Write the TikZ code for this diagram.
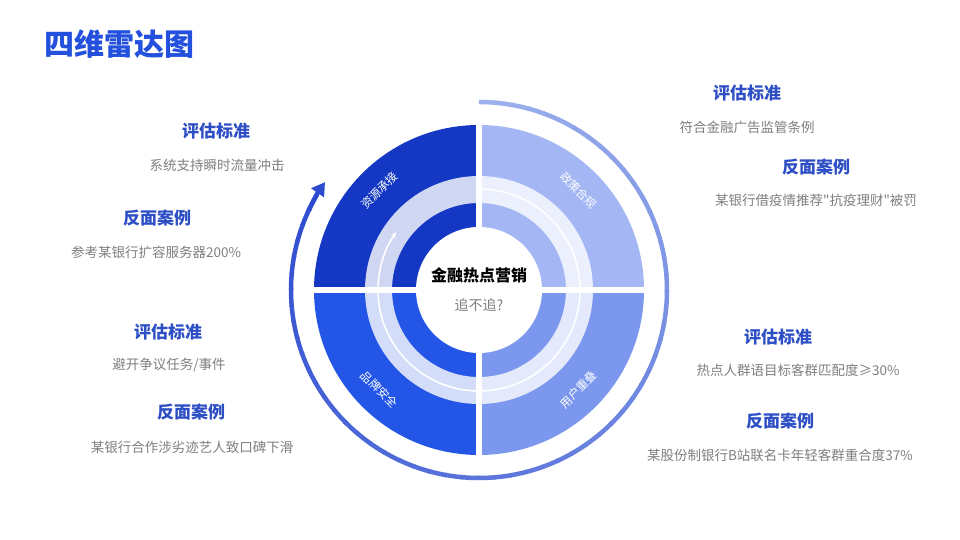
\documentclass[tikz,border=0pt]{standalone}
\usepackage{fontspec}
\setmainfont{Noto Sans CJK SC}[Ligatures=TeXOff]
\usepackage{xcolor}
\usetikzlibrary{calc, arrows.meta, positioning}

\definecolor{titleblue}{HTML}{2350DC}
\definecolor{headblue}{HTML}{2D4EC5}
\definecolor{bodygray}{HTML}{7F7F7F}
\definecolor{qres}{HTML}{1538C4}
\definecolor{qpol}{HTML}{A4B7F4}
\definecolor{qbrand}{HTML}{2356E6}
\definecolor{quser}{HTML}{7C98EE}
\definecolor{arclight}{HTML}{9CB0EC}
\definecolor{arcdark}{HTML}{2C4BCF}

\begin{document}
\begin{tikzpicture}[x=1pt, y=1pt, >=latex]
		\tikzstyle{head} = [font=\bfseries\fontsize{17}{20}\selectfont, text=headblue, inner sep=0pt]
		\tikzstyle{body} = [font=\fontsize{13.5}{16}\selectfont, text=bodygray, inner sep=0pt]
		\tikzstyle{sector} = [text=white, font=\fontsize{11.5}{13}\selectfont, inner sep=0pt]
		\tikzstyle{gap} = [white, line width=6.5pt]
		
		\useasboundingbox[fill=white] (0,0) rectangle (960,540);
		\coordinate (c) at (479,250);
		
		% four quadrants
		\fill[qres]   (c) -- ++(180:165) arc[start angle=180, end angle=90, radius=165] -- cycle;
		\fill[qpol]   (c) -- ++(90:165) arc[start angle=90, end angle=0, radius=165] -- cycle;
		\fill[quser]  (c) -- ++(0:165) arc[start angle=0, end angle=-90, radius=165] -- cycle;
		\fill[qbrand] (c) -- ++(-90:165) arc[start angle=-90, end angle=-180, radius=165] -- cycle;
		
		% light ring and white centre
		\fill[white, opacity=0.8, even odd rule] (c) circle[radius=114] (c) circle[radius=87];
		\fill[white] (c) circle[radius=63];
		\draw[white, line width=1.6pt, -{Stealth[length=6pt, width=5pt]}]
			(c) ++(90:101) arc[start angle=90, end angle=-215, radius=101];
		
		% gaps between quadrants
		\coordinate (gt) at ($(c)+(0,167)$);
		\coordinate (gb) at ($(c)+(0,-167)$);
		\coordinate (gl) at ($(c)+(-167,0)$);
		\coordinate (gr) at ($(c)+(167,0)$);
		\draw[gap] (gt) -- (gb);
		\draw[gap] (gl) -- (gr);
		
		% outer arc with arrow
		\foreach \a in {90,85,...,-205} {
			\pgfmathtruncatemacro{\p}{(90-\a)/3}
			\draw[line width=4.5pt, arcdark!\p!arclight] (c) ++(\a:188) arc[start angle=\a, end angle=\a-5.5, radius=188];
		}
		\draw[line width=4.5pt, arcdark, -{Triangle[width=15pt, length=13pt]}]
			(c) ++(-205:188) arc[start angle=-205, end angle=-215, radius=188];
		
		% centre and sector labels
		\node[font=\bfseries\fontsize{16}{19}\selectfont, inner sep=0pt] (hot) at (479,265) {金融热点营销};
		\node[font=\fontsize{14}{16}\selectfont, text=bodygray, inner sep=0pt] (ask) at (479,235) {追不追?};
		\node[sector, rotate=45]  (res)   at ($(c)+(135:141)$) {资源承接};
		\node[sector, rotate=-45] (pol)   at ($(c)+(45:141)$)  {政策合规};
		\node[sector, rotate=-45] (brand) at ($(c)+(225:141)$) {品牌安全};
		\node[sector, rotate=45]  (user)  at ($(c)+(-45:141)$) {用户重叠};
		
		% title
		\node[font=\bfseries\fontsize{30}{34}\selectfont, text=titleblue, anchor=west, inner sep=0pt] (title) at (44,496) {四维雷达图};
		
		% left top
		\node[head] (rescrit) at (216,409) {评估标准};
		\node[body] (resstd)  at (217,375) {系统支持瞬时流量冲击};
		\node[head] (rescase) at (157,322) {反面案例};
		\node[body] (resex)   at (156,288) {参考某银行扩容服务器200\%};
		
		% left bottom
		\node[head] (brandcrit) at (168,208) {评估标准};
		\node[body] (brandstd)  at (169,175) {避开争议任务/事件};
		\node[head] (brandcase) at (191,128) {反面案例};
		\node[body] (brandex)   at (192,93)  {某银行合作涉劣迹艺人致口碑下滑};
		
		% right top
		\node[head] (polcrit) at (747,447) {评估标准};
		\node[body] (polstd)  at (747,413) {符合金融广告监管条例};
		\node[head] (polcase) at (816,373) {反面案例};
		\node[body] (polex)   at (816,340) {某银行借疫情推荐"抗疫理财"被罚};
		
		% right bottom
		\node[head] (usercrit) at (778,203) {评估标准};
		\node[body] (userstd)  at (798,170) {热点人群语目标客群匹配度≥30\%};
		\node[head] (usercase) at (780,119) {反面案例};
		\node[body] (userex)   at (780,85)  {某股份制银行B站联名卡年轻客群重合度37\%};
	\end{tikzpicture}
\end{document}
